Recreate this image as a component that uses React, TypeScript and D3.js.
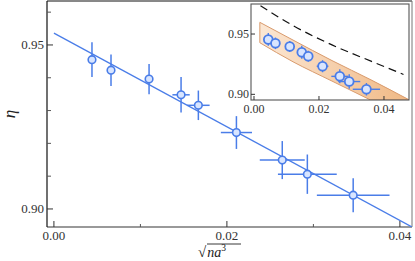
import * as d3 from 'd3';
import React from 'react';

// measured points
const xVals = [0.0044, 0.0066, 0.011, 0.0147, 0.0167, 0.0211, 0.0264, 0.0293, 0.0346];
const yVals = [0.9455, 0.9423, 0.9396, 0.9348, 0.9316, 0.9233, 0.9149, 0.9106, 0.9042];
const xErrs = [0.0003, 0.0003, 0.0004, 0.001, 0.0013, 0.0018, 0.0026, 0.0034, 0.0042];
const yErrs = [0.0053, 0.0048, 0.0046, 0.0054, 0.0045, 0.005, 0.0058, 0.006, 0.0052];

// linear fit
const fitX = [0, 0.0414];
const fitY = [0.9536, 0.8945];

// inset: dashed theory curve and shaded band
const dashX = [0.002, 0.012, 0.024, 0.036, 0.046];
const dashY = [0.9735, 0.957, 0.941, 0.9275, 0.9165];
const bandUpX = [0.0018, 0.012, 0.024, 0.036, 0.0477];
const bandUpY = [0.9597, 0.945, 0.928, 0.912, 0.8955];
const bandLoX = [0.0018, 0.012, 0.024, 0.0357];
const bandLoY = [0.9428, 0.927, 0.911, 0.8955];

const xTicks = [0, 0.02, 0.04];
const xMinor = [0.01, 0.03];
const yTicks = [0.9, 0.95];
const yMinor = [0.91, 0.92, 0.93, 0.94, 0.96];
const insetXTicks = [0, 0.02, 0.04];
const insetYTicks = [0.9, 0.95];

const blue = '#4a7de8';
const fill = '#d8e5ff';
const font = '"Liberation Serif", "DejaVu Serif", serif';

const App = (): React.ReactElement => {
    const width = 415;
    const height = 261;

    const x = d3.scaleLinear().domain([-0.0008, 0.0414]).range([47, 412]);
    const y = d3.scaleLinear().domain([0.8945, 0.9634]).range([227, 1]);

    const ix = d3.scaleLinear().domain([-0.00092, 0.0477]).range([251, 409]);
    const iy = d3.scaleLinear().domain([0.8953, 0.9749]).range([100, 4]);

    const pts = xVals.map((v, i) => ({ x: v, y: yVals[i], ex: xErrs[i], ey: yErrs[i] }));

    const fitLine = d3
        .line<number>()
        .x((d) => x(d))
        .y((_, i) => y(fitY[i]))(fitX) as string;

    const dashLine = d3
        .line<number>()
        .x((d) => ix(d))
        .y((_, i) => iy(dashY[i]))
        .curve(d3.curveMonotoneX)(dashX) as string;

    const upper = bandUpX.map((v, i) => [ix(v), iy(bandUpY[i])] as [number, number]);
    const lower = bandLoX.map((v, i) => [ix(v), iy(bandLoY[i])] as [number, number]);
    const lineGen = d3.line().curve(d3.curveMonotoneX);
    const bandPath =
        (lineGen(upper) as string) +
        'L' + ix(0.0477) + ',' + iy(0.8955) +
        (lineGen(lower.slice().reverse()) as string).replace(/^M/, 'L') +
        'Z';

    return (
        <svg width={width} height={height} style={{ position: 'absolute', left: 0, top: 0 }} fontFamily={font}>
            <defs>
                <clipPath id="main-clip">
                    <rect x={47} y={1} width={365} height={226} />
                </clipPath>
                <clipPath id="inset-clip">
                    <rect x={251} y={4} width={158} height={96} />
                </clipPath>
                <linearGradient id="band-grad" x1="0" x2="1" y1="0" y2="0">
                    <stop offset="0%" stopColor="#fbe7d4" />
                    <stop offset="100%" stopColor="#f0b884" />
                </linearGradient>
            </defs>

            {/* main frame */}
            <line x1={47} x2={412} y1={1} y2={1} stroke="#111" strokeWidth={1} />
            <line x1={412} x2={412} y1={1} y2={227} stroke="#777" strokeWidth={1} />
            <line x1={47} x2={412} y1={227} y2={227} stroke="#777" strokeWidth={1.6} />
            <line x1={47} x2={47} y1={1} y2={227} stroke="#111" strokeWidth={1.2} />

            {/* ticks */}
            {yTicks.map((t) => (
                <g key={'yt' + t}>
                    <line x1={47} x2={53} y1={y(t)} y2={y(t)} stroke="#333" />
                    <text x={44} y={y(t) + 4.5} fontSize={13} textAnchor="end" fill="#333">
                        {d3.format('.2f')(t)}
                    </text>
                </g>
            ))}
            {yMinor.map((t) => (
                <line key={'ym' + t} x1={47} x2={51} y1={y(t)} y2={y(t)} stroke="#555" />
            ))}
            {xTicks.map((t) => (
                <g key={'xt' + t}>
                    <line x1={x(t)} x2={x(t)} y1={227} y2={221} stroke="#333" />
                    <text x={x(t)} y={240} fontSize={13} textAnchor="middle" fill="#333">
                        {d3.format('.2f')(t)}
                    </text>
                </g>
            ))}
            {xMinor.map((t) => (
                <line key={'xm' + t} x1={x(t)} x2={x(t)} y1={227} y2={224} stroke="#555" />
            ))}

            {/* axis labels */}
            <text
                transform="translate(15,114) rotate(-90)"
                fontSize={17}
                fontStyle="italic"
                textAnchor="middle"
                fill="#222"
            >
                η
            </text>
            <line x1={207} x2={241} y1={244} y2={244} stroke="#222" strokeWidth={0.9} />
            <text x={198} y={257} fontSize={14} fill="#222">
                <tspan fontSize={15}>√</tspan>
                <tspan fontStyle="italic" dx={1}>na</tspan>
                <tspan fontSize={9.5} dy={-6}>3</tspan>
            </text>

            {/* fit + data */}
            <g clipPath="url(#main-clip)">
                <path d={fitLine} stroke={blue} strokeWidth={1.3} fill="none" />
                {pts.map((p, i) => (
                    <g key={'p' + i}>
                        <line x1={x(p.x - p.ex)} x2={x(p.x + p.ex)} y1={y(p.y)} y2={y(p.y)} stroke={blue} strokeWidth={1.5} />
                        <line x1={x(p.x)} x2={x(p.x)} y1={y(p.y - p.ey)} y2={y(p.y + p.ey)} stroke={blue} strokeWidth={1.5} />
                        <circle cx={x(p.x)} cy={y(p.y)} r={3.8} fill={fill} stroke={blue} strokeWidth={1.6} />
                    </g>
                ))}
            </g>

            {/* inset */}
            <rect x={251} y={4} width={158} height={96} fill="#fff" />
            <g clipPath="url(#inset-clip)">
                <path d={bandPath} fill="url(#band-grad)" stroke="#d99a6c" strokeWidth={1} />
                <path d={dashLine} fill="none" stroke="#111" strokeWidth={1.2} strokeDasharray="8,5" />
                {pts.map((p, i) => (
                    <g key={'ip' + i}>
                        <line x1={ix(p.x - p.ex)} x2={ix(p.x + p.ex)} y1={iy(p.y)} y2={iy(p.y)} stroke={blue} strokeWidth={1.4} />
                        <line x1={ix(p.x)} x2={ix(p.x)} y1={iy(p.y - p.ey)} y2={iy(p.y + p.ey)} stroke={blue} strokeWidth={1.4} />
                        <circle cx={ix(p.x)} cy={iy(p.y)} r={4.4} fill={fill} stroke={blue} strokeWidth={1.8} />
                    </g>
                ))}
            </g>
            <rect x={251} y={4} width={158} height={96} fill="none" stroke="#555" strokeWidth={1.1} />
            {insetYTicks.map((t) => (
                <g key={'iyt' + t}>
                    <line x1={251} x2={255} y1={iy(t)} y2={iy(t)} stroke="#333" />
                    <text x={249} y={iy(t) + 4} fontSize={12} textAnchor="end" fill="#333">
                        {d3.format('.2f')(t)}
                    </text>
                </g>
            ))}
            {insetXTicks.map((t) => (
                <g key={'ixt' + t}>
                    <line x1={ix(t)} x2={ix(t)} y1={100} y2={96} stroke="#333" />
                    <text x={ix(t)} y={113} fontSize={12} textAnchor="middle" fill="#333">
                        {d3.format('.2f')(t)}
                    </text>
                </g>
            ))}
        </svg>
    );
};

export default App;
